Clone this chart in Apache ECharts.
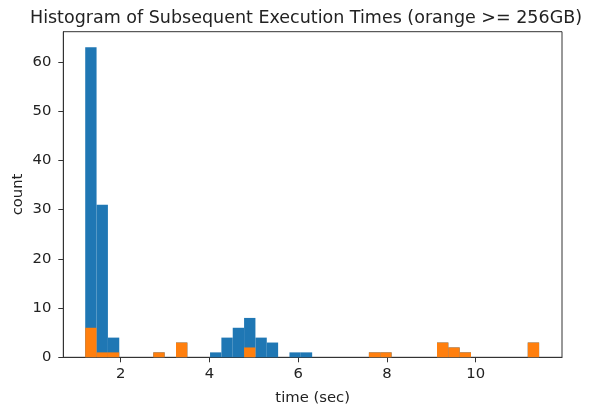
<!DOCTYPE html>
<html><head><meta charset="utf-8">
<script src="https://cdn.jsdelivr.net/npm/echarts@6/dist/echarts.min.js"></script>
<style>html,body{margin:0;padding:0;background:#fff}#c{width:599px;height:412px}</style>
</head><body><div id="c"></div>
<script>
// Histogram: 40 equal-width bins between binMin and binMax
const binMin = 1.2;
const binMax = 11.43;
const binCount = 40;
// counts for all runs (blue)
const blueCounts = [63,31,4,0,0,0,1,0,3,0,0,1,4,6,8,4,3,0,1,1,0,0,0,0,0,1,1,0,0,0,0,3,2,1,0,0,0,0,0,3];
// counts for runs >= 256GB (orange)
const orangeCounts = [6,1,1,0,0,0,1,0,3,0,0,0,0,0,2,0,0,0,0,0,0,0,0,0,0,1,1,0,0,0,0,3,2,1,0,0,0,0,0,3];
const xTicks = [2,4,6,8,10];
const yTicks = [0,10,20,30,40,50,60];
const titleText = 'Histogram of Subsequent Execution Times (orange >= 256GB)';

const binWidth = (binMax - binMin) / binCount;
function toData(counts){
  return counts.map((c,i)=>[binMin + i*binWidth, binMin + (i+1)*binWidth, c]);
}
function renderBar(color){
  return function(params, api){
    const c = api.value(2);
    if (!c) return null;
    const p0 = api.coord([api.value(0), c]);
    const p1 = api.coord([api.value(1), 0]);
    return {type:'rect', shape:{x:p0[0], y:p0[1], width:p1[0]-p0[0], height:p1[1]-p0[1]},
      style:{fill:color}};
  };
}
const font = 'DejaVu Sans';
const chart = echarts.init(document.getElementById('c'), null, {renderer:'canvas'});
chart.setOption({
  animation:false,
  backgroundColor:'#fff',
  title:{text:titleText, left:301, top:4, textAlign:'center',
    textStyle:{fontFamily:font, fontSize:17.5, fontWeight:'normal', color:'#222'}},
  grid:{left:63.3, right:37, top:31.7, bottom:54.7, show:true, borderColor:'#333', borderWidth:1, backgroundColor:'transparent'},
  xAxis:{type:'value', min:0.706, max:11.946,
    name:'time (sec)', nameLocation:'middle', nameGap:33, nameMoveOverlap:false,
    nameTextStyle:{fontFamily:font, fontSize:14.8, color:'#222'},
    axisLine:{show:true, lineStyle:{color:'#333'}},
    axisTick:{show:true, length:5, lineStyle:{color:'#333'}, customValues:xTicks},
    axisLabel:{fontFamily:font, fontSize:14.8, color:'#222', margin:9, customValues:xTicks},
    splitLine:{show:false}},
  yAxis:{type:'value', min:0, max:66.15,
    name:'count', nameLocation:'middle', nameGap:38, nameMoveOverlap:false,
    nameTextStyle:{fontFamily:font, fontSize:14.8, color:'#222'},
    axisLine:{show:true, lineStyle:{color:'#333'}},
    axisTick:{show:true, length:5, lineStyle:{color:'#333'}, customValues:yTicks},
    axisLabel:{fontFamily:font, fontSize:14.8, color:'#222', margin:12, customValues:yTicks},
    splitLine:{show:false}},
  series:[
    {type:'custom', name:'all', data:toData(blueCounts), renderItem:renderBar('#1f77b4'), encode:{x:[0,1], y:2}, z:2},
    {type:'custom', name:'>=256GB', data:toData(orangeCounts), renderItem:renderBar('#ff7f0e'), encode:{x:[0,1], y:2}, z:3}
  ]
});
</script></body></html>
